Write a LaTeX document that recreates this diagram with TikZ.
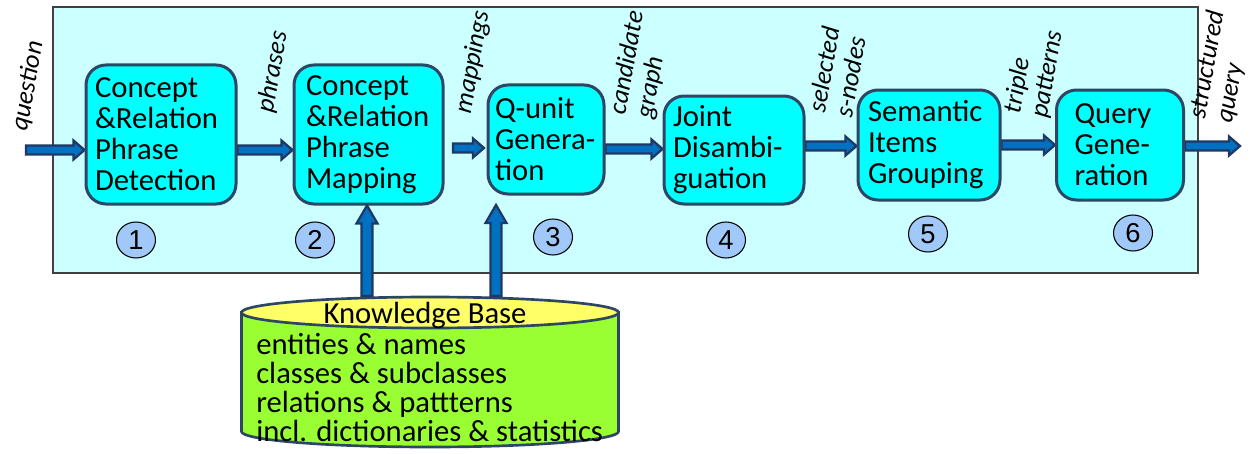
\documentclass[tikz,border=0pt]{standalone}
\usepackage{fontspec}
\setmainfont{Carlito}
\newfontfamily\numfont{Liberation Sans}
\usetikzlibrary{calc,shapes.geometric,backgrounds}
\hyphenpenalty=10000
\exhyphenpenalty=10000
\definecolor{panelfill}{RGB}{204,255,255}
\definecolor{panelline}{RGB}{64,64,64}
\definecolor{boxfill}{RGB}{0,255,255}
\definecolor{boxline}{RGB}{45,70,100}
\definecolor{arrowfill}{RGB}{0,112,192}
\definecolor{arrowline}{RGB}{31,56,100}
\definecolor{numfill}{RGB}{160,200,248}
\definecolor{kbtop}{RGB}{255,255,102}
\definecolor{kbbody}{RGB}{153,255,51}
\newcommand\hflowarrow[2]{\draw[barrow] ($(#1)+(0,-4.5)$) -- ($(#2)+(-11,-4.5)$) -- ($(#2)+(-11,-9.5)$) -- (#2) -- ($(#2)+(-11,9.5)$) -- ($(#2)+(-11,4.5)$) -- ($(#1)+(0,4.5)$) -- cycle;}
\newcommand\vflowarrow[2]{\draw[barrow] ($(#1)+(-5.5,0)$) -- ($(#2)+(-5.5,18)$) -- ($(#2)+(-10.5,18)$) -- (#2) -- ($(#2)+(10.5,18)$) -- ($(#2)+(5.5,18)$) -- ($(#1)+(5.5,0)$) -- cycle;}
\begin{document}
\begin{tikzpicture}[x=0.75pt,y=-0.75pt,
 procbox/.style={draw=boxline, fill=boxfill, line width=2.25pt, rounded corners=15pt, align=left, inner sep=0pt, font=\fontsize{23}{23.25}\selectfont},
 flowlabel/.style={rotate=80, align=left, inner sep=0pt, font=\fontsize{19.5}{20.5}\selectfont\itshape},
 stepnum/.style={ellipse, draw=black, line width=0.8pt, fill=numfill, minimum width=29.25pt, minimum height=27pt, inner sep=0pt, font=\numfont\fontsize{20.5}{20.5}\selectfont},
 barrow/.style={draw=arrowline, fill=arrowfill, line width=1.7pt, line join=miter},
 kbline/.style={draw=boxline, line width=2pt},
 kbtext/.style={inner sep=0pt, align=left, font=\fontsize{23}{21.75}\selectfont}]
\useasboundingbox (0,0) rectangle (1259,453);
% processing steps
\node[procbox, minimum width=112.5pt, minimum height=104.25pt, text width=99pt] (b1) at (161,134.5) {Concept\\\&Relation\\Phrase\\Detection};
\node[procbox, minimum width=111.75pt, minimum height=104.25pt, text width=93.75pt] (b2) at (368.5,134.5) {Concept\\\&Relation\\Phrase\\Mapping};
\node[procbox, minimum width=87pt, minimum height=81.75pt, text width=76.5pt] (b3) at (546,139.5) {Q-unit\\Genera-\\tion};
\node[procbox, minimum width=105pt, minimum height=81pt, text width=91.5pt] (b4) at (734,150) {Joint\\Disambi-\\guation};
\node[procbox, minimum width=106.5pt, minimum height=82.5pt, text width=91.5pt] (b5) at (929,145) {Semantic\\Items\\Grouping};
\node[procbox, minimum width=95.25pt, minimum height=82.5pt, text width=68.25pt] (b6) at (1120,145) {Query\\Gene-\\ration};
% panel and arrows between steps, beneath the boxes
\coordinate (qin) at (26,150);
\coordinate (m1) at (453,148);
\coordinate (m2) at (484,148);
\coordinate (cg) at (0,149);
\coordinate (sn) at (0,146);
\coordinate (sq) at (1240,146);
\begin{scope}[on background layer]
\draw[draw=panelline, fill=panelfill, line width=1.1pt] (53,7) rectangle (1198,273);
\hflowarrow{qin}{qin -| b1.west}
\hflowarrow{b1.east |- qin}{b2.west |- qin}
\hflowarrow{m1}{m2}
\hflowarrow{b3.east |- cg}{b4.west |- cg}
\hflowarrow{b4.east |- sn}{b5.west |- sn}
\hflowarrow{b5.east}{b6.west}
\hflowarrow{b6.east |- sq}{sq}
\end{scope}
% labels
\node[flowlabel] (lq) at (28,86) {question};
\node[flowlabel] (lp) at (273,72) {phrases};
\node[flowlabel] (lm) at (473,62) {mappings};
\node[flowlabel] (lc) at (641,65) {candidate\\graph};
\node[flowlabel] (ls) at (837,72) {selected\\s-nodes};
\node[flowlabel] (lt) at (1034,72) {triple\\patterns};
\node[flowlabel] (lsq) at (1221,67) {structured\\query};
% step numbers
\node[stepnum] (n1) at (136,240) {1};
\node[stepnum] (n2) at (315,240) {2};
\node[stepnum] (n3) at (553,237) {3};
\node[stepnum] (n4) at (726,240) {4};
\node[stepnum] (n5) at (928,234) {5};
\node[stepnum] (n6) at (1133,233) {6};
% knowledge base cylinder
\path[kbline, fill=kbbody] (241.5,312.5) -- (241.5,431.5) arc[start angle=180, end angle=0, x radius=188.5, y radius=15.5] -- (618.5,312.5) -- cycle;
\draw[kbline, fill=kbtop] (430,312.5) ellipse [x radius=188.5, y radius=15.5];
\node[kbtext, anchor=base] (kbtitle) at (425,323) {Knowledge Base};
\node[kbtext, anchor=north west] (kbitems) at (256,333) {entities \& names\\classes \& subclasses\\relations \& pattterns\\incl. dictionaries \& statistics};
% arrows from the knowledge base
\coordinate (kb2) at (367,296);
\coordinate (kb3) at (496,296);
\coordinate (t3) at (496,205);
\vflowarrow{kb2}{kb2 |- b2.south}
\vflowarrow{kb3}{t3}
\end{tikzpicture}
\end{document}
